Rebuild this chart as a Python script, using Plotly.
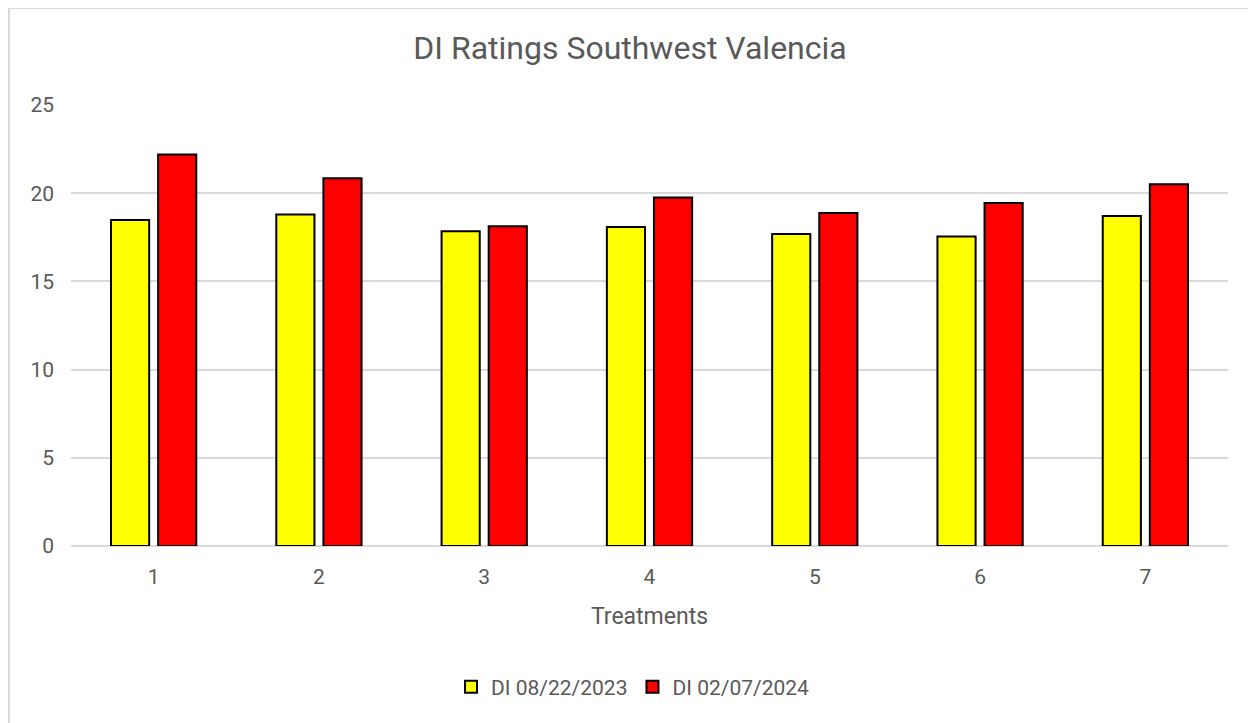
import plotly.graph_objects as go

treatments = ["1", "2", "3", "4", "5", "6", "7"]
di_2023 = [18.48, 18.79, 17.84, 18.09, 17.69, 17.54, 18.71]
di_2024 = [22.2, 20.85, 18.13, 19.76, 18.88, 19.45, 20.51]
y_ticks = [0, 5, 10, 15, 20, 25]

FONT = "Roboto"
GRAY = "#595959"

# page body has an 8px margin: figure is drawn 8px right/down in the window
W, H = 1248, 715
L, R, T, B = 63, 28, 97, 177
PW, PH = W - L - R, H - T - B

def px(x):
    return (x - L) / PW

def py(y):
    return (H - B - y) / PH

fig = go.Figure()
fig.add_trace(go.Bar(x=treatments, y=di_2023, name="DI 08/22/2023",
                     marker=dict(color="#FFFF00", line=dict(color="black", width=2))))
fig.add_trace(go.Bar(x=treatments, y=di_2024, name="DI 02/07/2024",
                     marker=dict(color="#FF0000", line=dict(color="black", width=2))))

fig.update_layout(
    width=W, height=H,
    margin=dict(l=L, r=R, t=T, b=B),
    paper_bgcolor="white", plot_bgcolor="white",
    barmode="group", bargap=0.43, bargroupgap=0.19,
    font=dict(family=FONT, color=GRAY),
    title=dict(text="DI Ratings Southwest Valencia", x=(630 - 8) / W, xanchor="center",
               y=1 - (48 - 8) / H, yanchor="middle", font=dict(size=32, color=GRAY, family=FONT)),
    xaxis=dict(title=dict(text="Treatments", font=dict(size=23, color=GRAY), standoff=19),
               tickfont=dict(size=21, color=GRAY), showgrid=False, ticks="",
               showline=False, zeroline=False, ticklabelstandoff=16),
    yaxis=dict(range=[0, 25], tickvals=y_ticks, tickfont=dict(size=21, color=GRAY),
               showgrid=True, gridcolor="#D9D9D9", gridwidth=1.5, zeroline=True,
               zerolinecolor="#D9D9D9", zerolinewidth=1.5, ticks="", ticklabelstandoff=16),
    legend=dict(orientation="h", x=px(633 - 8), xanchor="center", y=py(687 - 8), yanchor="middle",
                font=dict(size=21, color=GRAY), itemwidth=30, tracegroupgap=0),
    shapes=[
        dict(type="line", xref="paper", yref="paper", x0=px(1), x1=px(1), y0=py(0), y1=py(H + 5),
             line=dict(color="#D9D9D9", width=2)),
        dict(type="line", xref="paper", yref="paper", x0=px(0), x1=px(W + 5), y0=py(0), y1=py(0),
             line=dict(color="#D9D9D9", width=2)),
    ],
)

fig.write_html("out.html")
